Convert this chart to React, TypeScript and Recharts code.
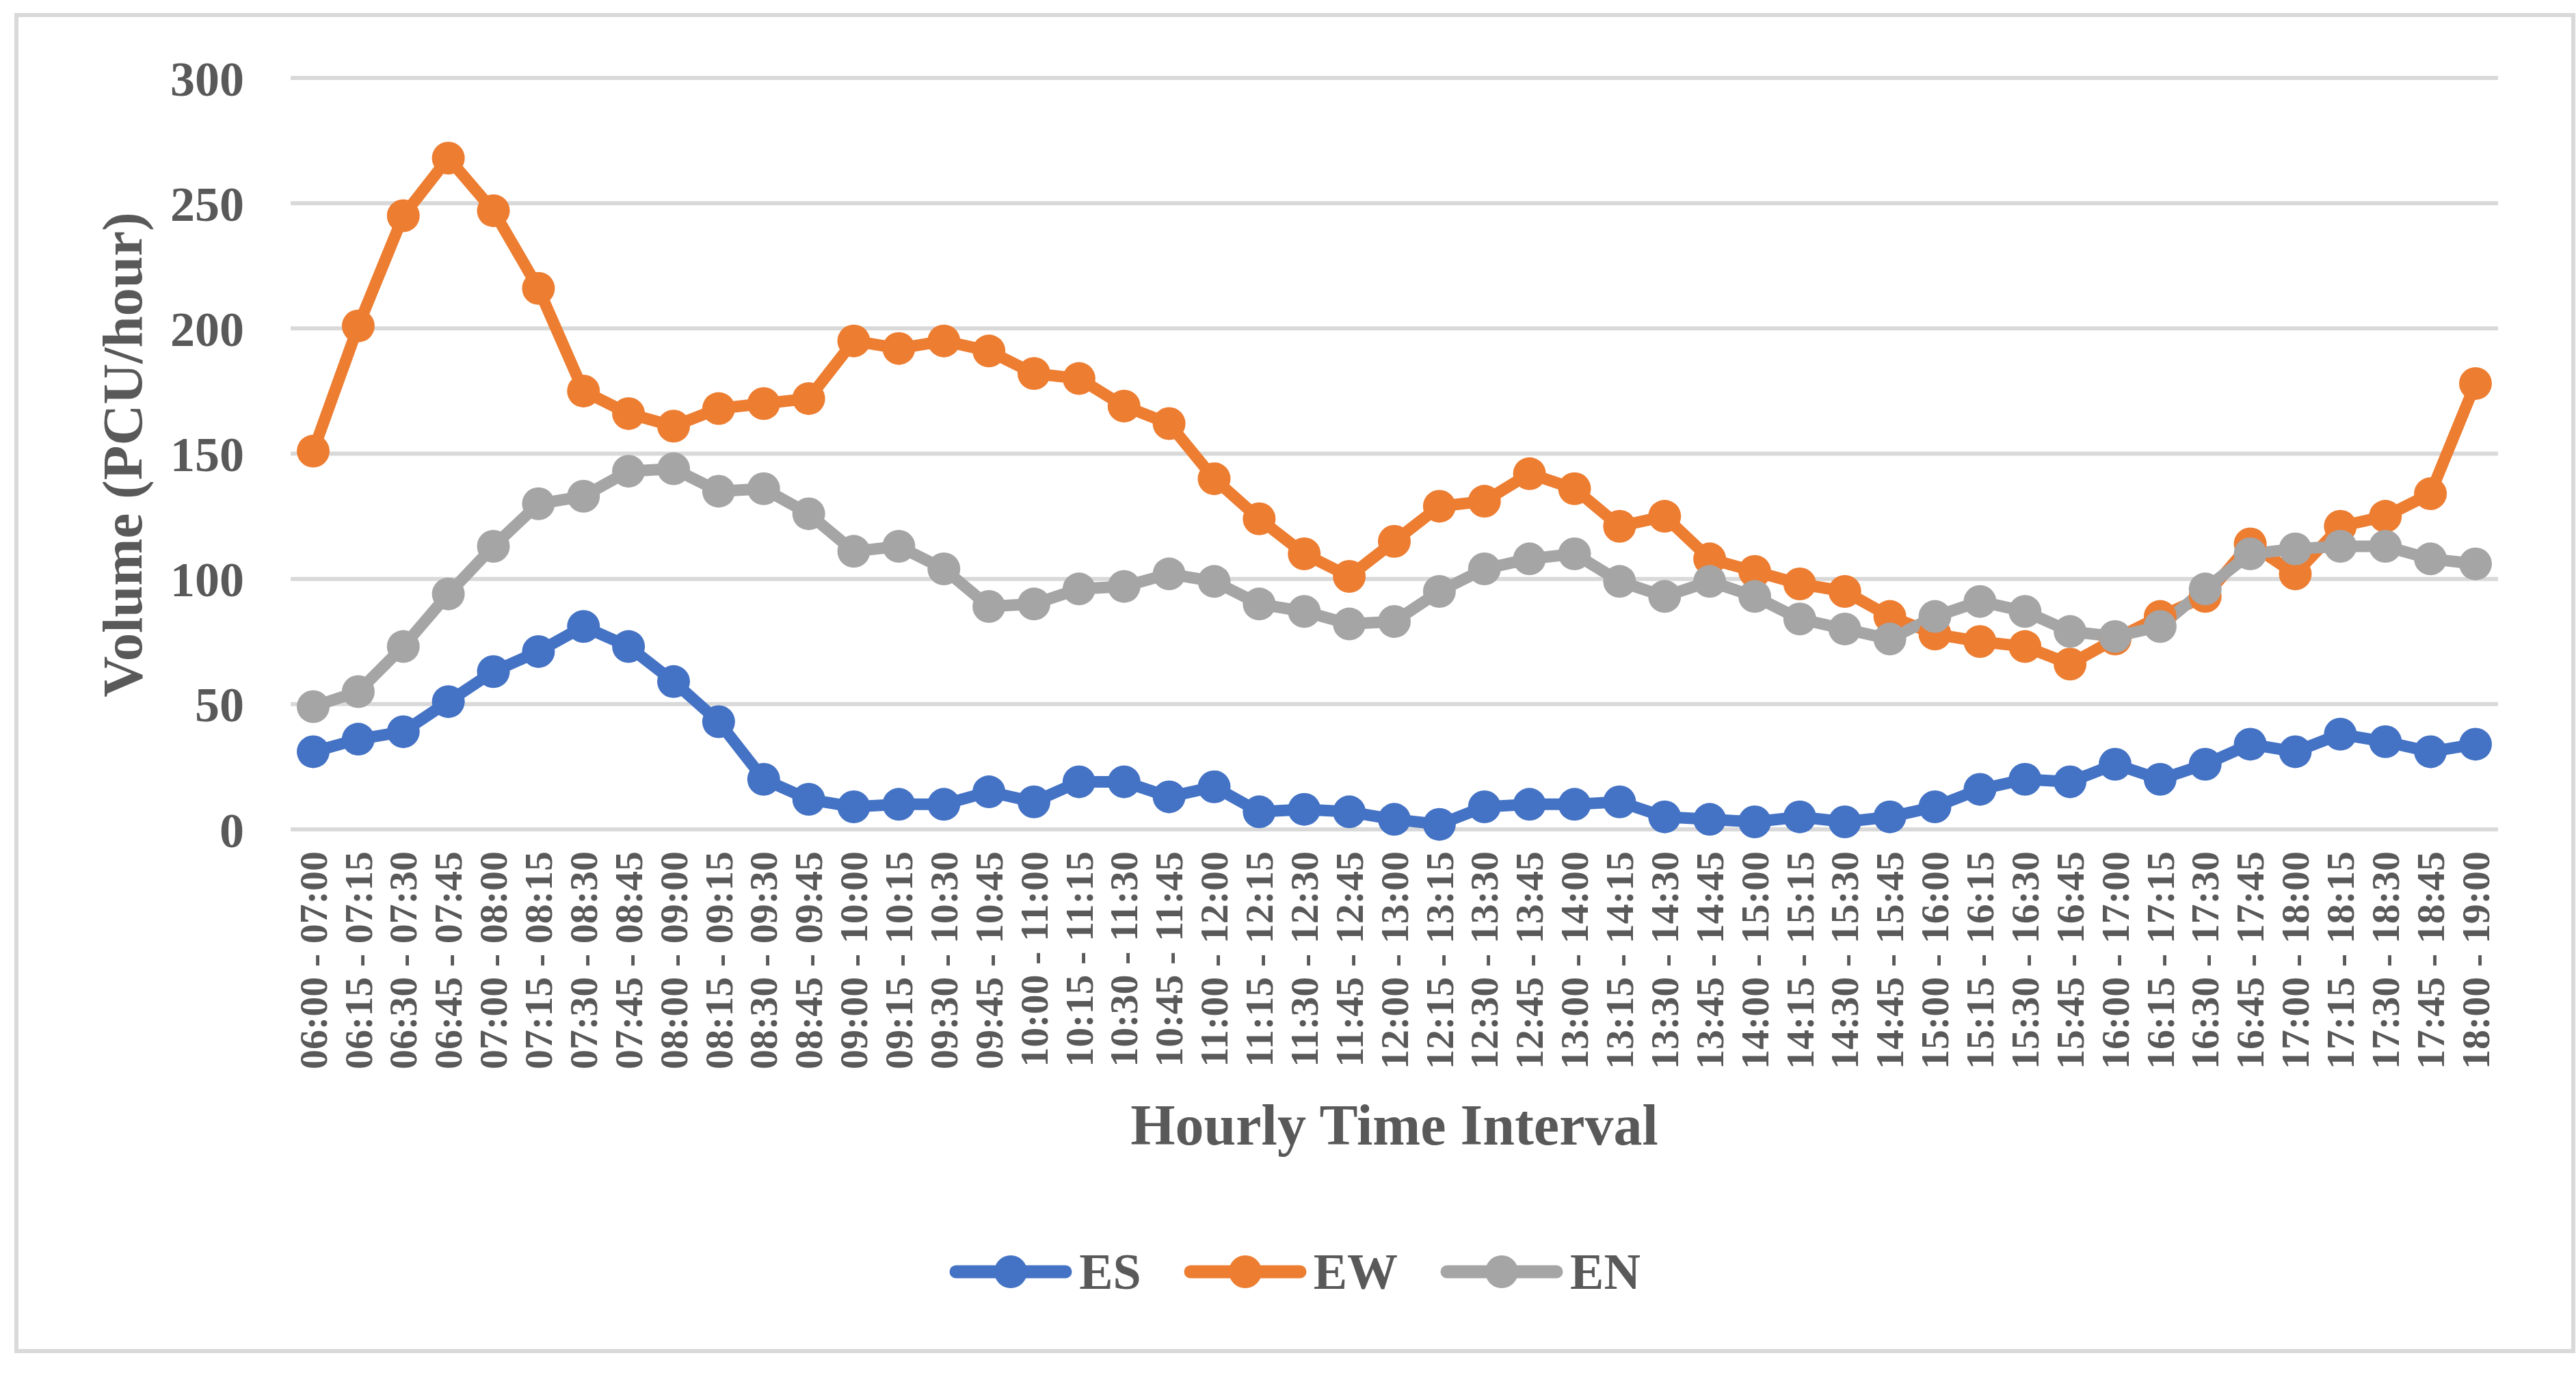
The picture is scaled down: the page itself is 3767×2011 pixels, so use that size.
import React from 'react';
import { LineChart, Line, XAxis, YAxis, CartesianGrid, Label } from 'recharts';

// 15-minute start times, each hourly window runs one hour from the start
const intervals = [
  '06:00 - 07:00', '06:15 - 07:15', '06:30 - 07:30', '06:45 - 07:45',
  '07:00 - 08:00', '07:15 - 08:15', '07:30 - 08:30', '07:45 - 08:45',
  '08:00 - 09:00', '08:15 - 09:15', '08:30 - 09:30', '08:45 - 09:45',
  '09:00 - 10:00', '09:15 - 10:15', '09:30 - 10:30', '09:45 - 10:45',
  '10:00 - 11:00', '10:15 - 11:15', '10:30 - 11:30', '10:45 - 11:45',
  '11:00 - 12:00', '11:15 - 12:15', '11:30 - 12:30', '11:45 - 12:45',
  '12:00 - 13:00', '12:15 - 13:15', '12:30 - 13:30', '12:45 - 13:45',
  '13:00 - 14:00', '13:15 - 14:15', '13:30 - 14:30', '13:45 - 14:45',
  '14:00 - 15:00', '14:15 - 15:15', '14:30 - 15:30', '14:45 - 15:45',
  '15:00 - 16:00', '15:15 - 16:15', '15:30 - 16:30', '15:45 - 16:45',
  '16:00 - 17:00', '16:15 - 17:15', '16:30 - 17:30', '16:45 - 17:45',
  '17:00 - 18:00', '17:15 - 18:15', '17:30 - 18:30', '17:45 - 18:45',
  '18:00 - 19:00',
];

const esValues = [
  31, 36, 39, 51, 63, 71, 81, 73, 59, 43, 20, 12,
  9, 10, 10, 15, 11, 19, 19, 13, 17, 7, 8, 7,
  4, 2, 9, 10, 10, 11, 5, 4, 3, 5, 3, 5,
  9, 16, 20, 19, 26, 20, 26, 34, 31, 38, 35, 31, 34,
];

const ewValues = [
  151, 201, 245, 268, 247, 216, 175, 166, 161, 168, 170, 172,
  195, 192, 195, 191, 182, 180, 169, 162, 140, 124, 110, 101,
  115, 129, 131, 142, 136, 121, 125, 108, 103, 98, 95, 85,
  78, 75, 73, 66, 76, 85, 93, 114, 102, 121, 125, 134, 178,
];

const enValues = [
  49, 55, 73, 94, 113, 130, 133, 143, 144, 135, 136, 126,
  111, 113, 104, 89, 90, 96, 97, 102, 99, 90, 87, 82,
  83, 95, 104, 108, 110, 99, 93, 99, 93, 84, 80, 76,
  85, 91, 87, 79, 77, 81, 96, 110, 112, 113, 113, 108, 106,
];

const yTicks = [0, 50, 100, 150, 200, 250, 300];

const series = [
  { key: 'ES', color: '#4472C4' },
  { key: 'EW', color: '#ED7D31' },
  { key: 'EN', color: '#A5A5A5' },
];

const data = intervals.map((name, i) => ({
  name,
  ES: esValues[i],
  EW: ewValues[i],
  EN: enValues[i],
}));

const FONT = "'Times New Roman', 'Liberation Serif', serif";
const TEXT = '#595959';
const GRID = '#D9D9D9';

const XTick = ({ x, y, payload }: any) => (
  <text
    x={x}
    y={y}
    dy="0.34em"
    transform={`rotate(-90, ${x}, ${y})`}
    textAnchor="end"
    fontFamily={FONT}
    fontWeight="bold"
    fontSize={58}
    fill={TEXT}
  >
    {payload.value}
  </text>
);

const XTitle = ({ viewBox }: any) => (
  <text
    x={viewBox.x + viewBox.width / 2}
    y={viewBox.y + 461}
    textAnchor="middle"
    fontFamily={FONT}
    fontWeight="bold"
    fontSize={84}
    fill={TEXT}
  >
    Hourly Time Interval
  </text>
);

const YTitle = () => (
  <text
    x={207}
    y={665}
    transform="rotate(-90, 207, 665)"
    textAnchor="middle"
    fontFamily={FONT}
    fontWeight="bold"
    fontSize={83}
    fill={TEXT}
  >
    Volume (PCU/hour)
  </text>
);

const LegendBox = () => (
  <div
    style={{
      position: 'absolute',
      top: 1830,
      left: 10,
      width: 3767,
      height: 60,
      display: 'flex',
      justifyContent: 'center',
      alignItems: 'center',
      fontFamily: FONT,
      fontWeight: 'bold',
      fontSize: 74,
      color: TEXT,
      lineHeight: 1,
    }}
  >
    {series.map((s, i) => (
      <div
        key={s.key}
        style={{ display: 'flex', alignItems: 'center', marginRight: i < series.length - 1 ? 62 : 0 }}
      >
        <svg width={180} height={60}>
          <line x1={10} y1={30} x2={170} y2={30} stroke={s.color} strokeWidth={19} strokeLinecap="round" />
          <circle cx={90} cy={30} r={24} fill={s.color} />
        </svg>
        <span style={{ marginLeft: 10 }}>{s.key}</span>
      </div>
    ))}
  </div>
);

export default function App() {
  return (
    <div style={{ position: 'absolute', top: 0, left: 0, width: 3767, height: 2011, background: '#fff' }}>
      <div
        style={{
          position: 'absolute',
          left: 21,
          top: 19,
          width: 3745,
          height: 1960,
          boxSizing: 'border-box',
          border: `6px solid ${GRID}`,
        }}
      />
      <div style={{ position: 'absolute', top: 0, left: 0 }}>
        <LineChart
          width={3767}
          height={2011}
          data={data}
          margin={{ top: 114, right: 114, bottom: 0, left: 225 }}
        >
          <CartesianGrid vertical={false} stroke={GRID} strokeWidth={6} />
          <XAxis
            dataKey="name"
            interval={0}
            height={798}
            padding={{ left: 33, right: 33 }}
            axisLine={false}
            tickLine={false}
            tickSize={0}
            tickMargin={32}
            tick={<XTick />}
          >
            <Label content={<XTitle />} />
          </XAxis>
          <YAxis
            width={200}
            domain={[0, 300]}
            ticks={yTicks}
            axisLine={false}
            tickLine={false}
            tickSize={0}
            tickMargin={68}
            tick={{ fontFamily: FONT, fontWeight: 'bold', fontSize: 72, fill: TEXT }}
          >
            <Label content={<YTitle />} />
          </YAxis>
          {series.map((s) => (
            <Line
              key={s.key}
              type="linear"
              dataKey={s.key}
              stroke={s.color}
              strokeWidth={17}
              strokeLinejoin="round"
              dot={{ r: 24, fill: s.color, stroke: s.color, strokeWidth: 0 }}
              activeDot={false}
              isAnimationActive={false}
            />
          ))}
        </LineChart>
      </div>
      <LegendBox />
    </div>
  );
}
